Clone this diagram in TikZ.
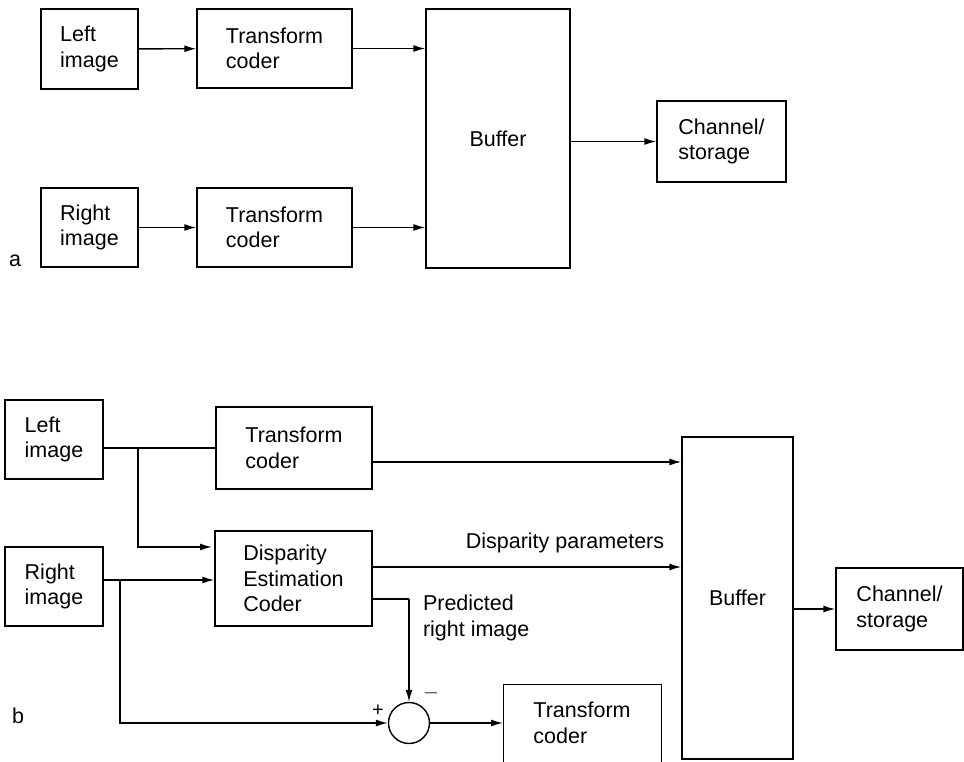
\documentclass[tikz,border=0pt]{standalone}
\usepackage{fontspec}
\setmainfont{Liberation Sans}
\usetikzlibrary{arrows.meta}

\begin{document}
\begin{tikzpicture}[x=1pt,y=-1pt,line width=1.4pt,
  font=\fontsize{21.5}{25.5}\selectfont,
  box/.style={draw,rectangle,align=left,inner sep=0pt},
  sum/.style={draw,circle,minimum size=41pt,inner sep=0pt},
  arr/.style={-{Latex[length=12pt,width=7pt]}},
  sign/.style={font=\fontsize{20}{20}\selectfont,inner sep=0pt}]
\clip (0,0) rectangle (964,762);
% (a) independent coding
\node [box,minimum width=97,minimum height=80] (lefta) at (89.5,49) {Left\\image};
\node [box,minimum width=155,minimum height=79] (tca1) at (274.5,48.5) {Transform\\coder};
\node [box,minimum width=97,minimum height=79] (righta) at (89.5,227.5) {Right\\image};
\node [box,minimum width=155,minimum height=79] (tca2) at (274.5,227.5) {Transform\\coder};
\node [box,minimum width=144,minimum height=259] (bufa) at (498,138.5) {Buffer};
\node [box,minimum width=129,minimum height=81] (chana) at (721.5,141.5) {Channel/\\storage};
\node (laba) at (15,261) {a};
\draw [arr] (lefta) -- (tca1);
\draw [arr] (righta) -- (tca2);
\draw [arr] (tca1.east) -- (tca1.east -| bufa.west);
\draw [arr] (tca2.east) -- (tca2.east -| bufa.west);
\draw [arr] (chana.west -| bufa.east) -- (chana.west);
% (b) disparity compensated coding
\node [box,minimum width=98,minimum height=79] (leftb) at (54,439.5) {Left\\image};
\node [box,minimum width=156,minimum height=82] (tcb1) at (294,448) {Transform\\coder};
\node [box,minimum width=157,minimum height=95] (dispb) at (293.5,578.5) {Disparity\\Estimation\\Coder};
\node [box,minimum width=98,minimum height=79] (rightb) at (54,586.5) {Right\\image};
\node [box,minimum width=111,minimum height=322] (bufb) at (737.5,598) {Buffer};
\node [box,minimum width=127,minimum height=82] (chanb) at (899.5,609) {Channel/\\storage};
\node [sum] (diff) at (409,723) {};
\node [box,minimum width=158,minimum height=110,anchor=north west] (tcb2) at (503,684) {};
\node [align=left] (tcb2text) at (582,723) {Transform\\coder};
\node (labb) at (18,716) {b};
\coordinate (lsplit) at (138,448);
\coordinate (rsplit) at (120,580);
\coordinate (pred) at (409,599);
\draw (leftb.east |- tcb1.west) -- (tcb1.west);
\draw [arr] (lsplit) |- (212,547);
\draw [arr] (rightb.east |- rsplit) -- (rsplit -| dispb.west);
\draw [arr] (rsplit) |- (diff.west);
\draw [arr] ([yshift=-14pt]tcb1.east) -- ([yshift=-14pt]tcb1.east -| bufb.west);
\draw [arr] (dispb.east |- 0,567) -- (bufb.west |- 0,567);
\node (dparam) at (565,543) {Disparity parameters};
\draw (dispb.east |- pred) -- (pred);
\draw [arr] (pred) -- (diff.north);
\node [align=left,anchor=west] (predlab) at (419,618) {Predicted\\right image};
\node [sign] (minus) at (431,693) {$-$};
\node [sign] (plus) at (378,711) {+};
\draw [arr] (diff.east) -- (diff.east -| tcb2.west);
\draw [arr] (chanb.west -| bufb.east) -- (chanb.west);
\end{tikzpicture}
\end{document}
